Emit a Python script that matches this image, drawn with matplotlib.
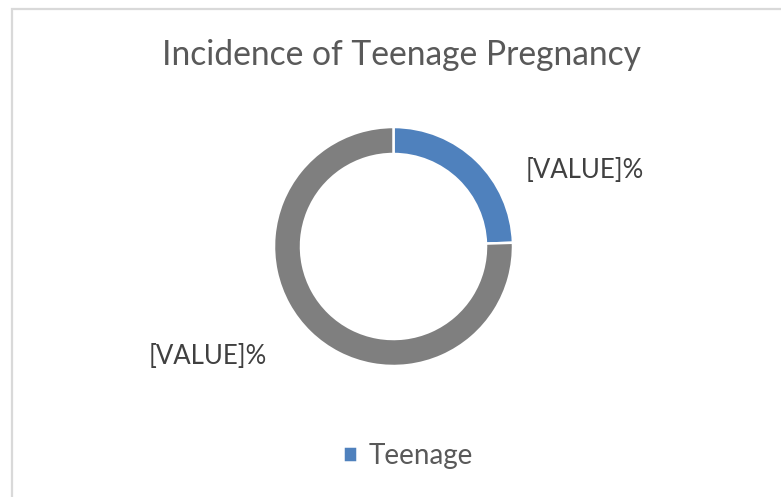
import matplotlib
matplotlib.use('Agg')
import matplotlib.pyplot as plt
from matplotlib.patches import Rectangle

# chart data
categories = ['Teenage', '']
shares = [24.5, 75.5]
data_labels = ['[VALUE]%', '[VALUE]%']
slice_colors = ['#4f81bd', '#7f7f7f']

W, H = 781, 497
plt.rcParams['font.family'] = ['Lato', 'DejaVu Sans']

fig = plt.figure(figsize=(W / 100, H / 100), dpi=100)
fig.patch.set_facecolor('white')
ax = fig.add_axes([0, 0, 1, 1])

# outer chart border (only top/left edges visible in the crop)
fig.add_artist(Rectangle((12 / W, -0.1), 1.2, (H - 9) / H + 0.1, transform=fig.transFigure,
                         fill=False, edgecolor='#d9d9d9', linewidth=1.6))

# donut ring
cx, cy, r = 393.5, H - 246.5, 119.5
wedges, _ = ax.pie(shares, radius=r, center=(cx, cy), startangle=90, counterclock=False,
                   colors=slice_colors, frame=True,
                   wedgeprops=dict(width=27, edgecolor='white', linewidth=1.8))
ax.set_xlim(0, W)
ax.set_ylim(0, H)
ax.axis('off')

# data labels placed like the excel chart
label_pos = [(585, H - 170), (208, H - 357)]
for (lx, ly), txt in zip(label_pos, data_labels):
    ax.text(lx, ly, txt, ha='center', va='center', fontsize=18.5, color='#404040')

ax.text(401.5, H - 55, 'Incidence of Teenage Pregnancy', ha='center', va='center',
        fontsize=24.2, color='#595959')

ax.legend(handles=[wedges[0]], labels=[categories[0]], loc='center',
          bbox_to_anchor=(408 / W, (H - 456) / H), frameon=False, fontsize=20,
          handlelength=0.5, handleheight=0.5, handletextpad=0.4, labelcolor='#595959')

fig.savefig('out.png', dpi=100, facecolor='white')
